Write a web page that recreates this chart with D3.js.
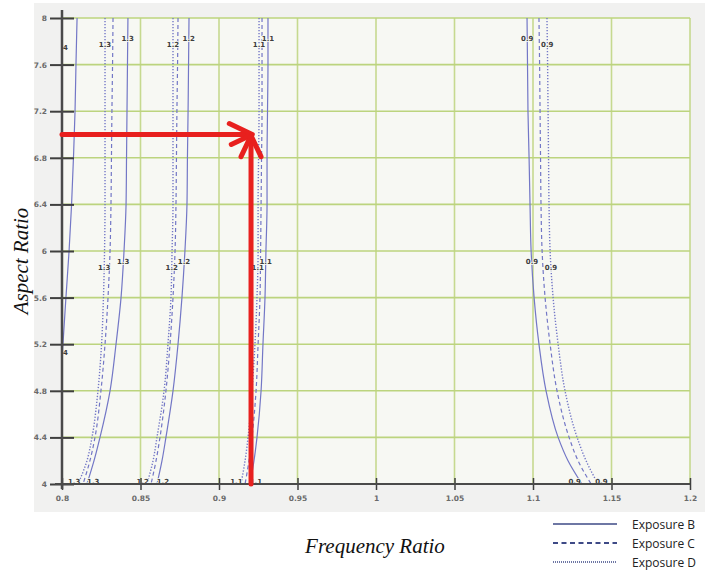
<!DOCTYPE html>
<html lang="en">
<head>
  <meta charset="UTF-8">
  <script src="https://cdn.jsdelivr.net/npm/d3@7"></script>
  <title>Aspect Ratio vs Frequency Ratio</title>
  <style>
    body { margin: 0; background: #fff; }
    svg { display: block; }
  </style>
</head>
<body>
<div id="chart"></div>
<script>
  // Axis ticks
  var xTicks = [0.8, 0.85, 0.9, 0.95, 1, 1.05, 1.1, 1.15, 1.2];
  var yTicks = [4, 4.4, 4.8, 5.2, 5.6, 6, 6.4, 6.8, 7.2, 7.6, 8];

  // Aspect ratio samples shared by all curves
  var aspect = [8, 7.6, 7.2, 6.8, 6.4, 6, 5.6, 5.2, 4.8, 4.4, 4.2, 4];

  // Frequency ratio of each curve (group label, exposure)
  var r13B = [0.8420, 0.8417, 0.8414, 0.8411, 0.8408, 0.8395, 0.8376, 0.8344, 0.8306, 0.8242, 0.8204, 0.8159];
  var r13C = [0.8325, 0.8322, 0.8318, 0.8315, 0.8312, 0.8306, 0.8293, 0.8274, 0.8248, 0.8210, 0.8178, 0.8134];
  var r13D = [0.8274, 0.8274, 0.8274, 0.8274, 0.8274, 0.8271, 0.8264, 0.8252, 0.8229, 0.8191, 0.8159, 0.8102];
  var r12B = [0.8809, 0.8806, 0.8803, 0.8799, 0.8796, 0.8783, 0.8764, 0.8739, 0.8707, 0.8662, 0.8637, 0.8605];
  var r12C = [0.8739, 0.8736, 0.8732, 0.8729, 0.8726, 0.8720, 0.8707, 0.8688, 0.8662, 0.8624, 0.8599, 0.8567];
  var r12D = [0.8707, 0.8707, 0.8707, 0.8707, 0.8707, 0.8701, 0.8694, 0.8675, 0.8650, 0.8605, 0.8580, 0.8541];
  var r11B = [0.9312, 0.9312, 0.9309, 0.9306, 0.9306, 0.9299, 0.9293, 0.9280, 0.9268, 0.9242, 0.9223, 0.9198];
  var r11C = [0.9274, 0.9274, 0.9274, 0.9271, 0.9268, 0.9265, 0.9261, 0.9249, 0.9236, 0.9210, 0.9191, 0.9166];
  var r11D = [0.9255, 0.9255, 0.9255, 0.9252, 0.9249, 0.9249, 0.9242, 0.9229, 0.9210, 0.9185, 0.9166, 0.9140];
  var r09B = [1.0962, 1.0965, 1.0968, 1.0975, 1.0981, 1.0988, 1.1007, 1.1038, 1.1083, 1.1160, 1.1223, 1.1312];
  var r09C = [1.1038, 1.1042, 1.1045, 1.1048, 1.1051, 1.1058, 1.1077, 1.1109, 1.1153, 1.1230, 1.1287, 1.1370];
  var r09D = [1.1089, 1.1093, 1.1096, 1.1099, 1.1102, 1.1109, 1.1128, 1.1160, 1.1204, 1.1281, 1.1338, 1.1414];
  // leftmost curve only reaches down to about 4.8 before leaving the plot
  var r14B = [0.8096, 0.8089, 0.8083, 0.8073, 0.8061, 0.8045, 0.8025, 0.8006, 0.7987];

  var curves = [
    {label: "1.4", exp: "B", vals: r14B},
    {label: "1.3", exp: "B", vals: r13B}, {label: "1.3", exp: "C", vals: r13C}, {label: "1.3", exp: "D", vals: r13D},
    {label: "1.2", exp: "B", vals: r12B}, {label: "1.2", exp: "C", vals: r12C}, {label: "1.2", exp: "D", vals: r12D},
    {label: "1.1", exp: "B", vals: r11B}, {label: "1.1", exp: "C", vals: r11C}, {label: "1.1", exp: "D", vals: r11D},
    {label: "0.9", exp: "B", vals: r09B}, {label: "0.9", exp: "C", vals: r09C}, {label: "0.9", exp: "D", vals: r09D}
  ];

  // annotation arrows (frequency ratio, aspect ratio)
  var arrowH = [[0.8, 7.0], [0.9212, 7.0]];
  var arrowV = [[0.9204, 4.0], [0.9204, 6.99]];

  var legendLabels = ["Exposure B", "Exposure C", "Exposure D"];

  var W = 715, H = 576;
  var margin = {top: 18, right: 25, bottom: 92, left: 62};

  var svg = d3.select("#chart").append("svg")
    .attr("width", W).attr("height", H);

  var x = d3.scaleLinear().domain([0.8, 1.2]).range([margin.left, W - margin.right]);
  var y = d3.scaleLinear().domain([4, 8]).range([H - margin.bottom, margin.top]);

  var dash = {B: null, C: "4,3", D: "1.3,1.7"};

  // panel + plot background
  svg.append("rect").attr("x", 34).attr("y", 3).attr("width", 671).attr("height", 509)
    .attr("fill", "#f1f1f0");
  svg.append("rect").attr("x", x(0.8)).attr("y", y(8))
    .attr("width", x(1.2) - x(0.8)).attr("height", y(4) - y(8))
    .attr("fill", "#f7f8f3");

  // grid
  svg.append("g").selectAll("line").data(xTicks.slice(1)).enter().append("line")
    .attr("x1", function(d) { return x(d); }).attr("x2", function(d) { return x(d); })
    .attr("y1", y(8)).attr("y2", y(4))
    .attr("stroke", "#c6d98f").attr("stroke-width", 1.6);
  svg.append("g").selectAll("line").data(yTicks.slice(1)).enter().append("line")
    .attr("x1", x(0.8)).attr("x2", x(1.2))
    .attr("y1", function(d) { return y(d); }).attr("y2", function(d) { return y(d); })
    .attr("stroke", "#bcd47e").attr("stroke-width", 1.6);

  // curves
  svg.append("clipPath").attr("id", "plotclip").append("rect")
    .attr("x", x(0.8)).attr("y", y(8) - 2)
    .attr("width", x(1.2) - x(0.8)).attr("height", y(4) - y(8) + 2);

  var line = d3.line()
    .x(function(d) { return x(d[0]); })
    .y(function(d) { return y(d[1]); })
    .curve(d3.curveMonotoneY);

  svg.append("g").attr("clip-path", "url(#plotclip)")
    .selectAll("path").data(curves).enter().append("path")
    .attr("d", function(c) { return line(c.vals.map(function(v, i) { return [v, aspect[i]]; })); })
    .attr("fill", "none")
    .attr("stroke", "#7377c6")
    .attr("stroke-width", function(c) { return c.exp == "D" ? 1.4 : 1.2; })
    .attr("stroke-dasharray", function(c) { return dash[c.exp]; });

  // curve labels, placed on the curve at a few aspect ratios
  function atAspect(c, a) {
    for (var i = 0; i < c.vals.length - 1; i++) {
      if (a <= aspect[i] && a >= aspect[i + 1]) {
        var t = (aspect[i] - a) / (aspect[i] - aspect[i + 1]);
        return c.vals[i] + t * (c.vals[i + 1] - c.vals[i]);
      }
    }
    return null;
  }
  var labelRows = [7.8, 5.88, 4.03];
  var labels = [];
  curves.forEach(function(c) {
    if (c.exp == "C" || c.label == "1.4") return;
    var partner = curves.filter(function(o) { return o.label == c.label && o.exp != c.exp && o.exp != "C"; })[0];
    labelRows.forEach(function(a, k) {
      var v = atAspect(c, a);
      var anchor = "middle";
      if (k == 2) anchor = v < atAspect(partner, a) ? "end" : "start";
      labels.push({t: c.label, fx: v, a: a + (k == 2 ? 0 : (c.exp == "B" ? 0.03 : -0.02)), anchor: anchor});
    });
  });
  // the 1.4 curve only shows the tail of its label at the plot edge
  labels.push({t: "4", fx: 0.8022, a: 7.75, anchor: "middle"});
  labels.push({t: "4", fx: 0.8022, a: 5.13, anchor: "middle"});

  svg.append("g").selectAll("text").data(labels).enter().append("text")
    .attr("x", function(d) { return x(d.fx) + (d.anchor == "start" ? -1 : (d.anchor == "end" ? 1 : 0)); })
    .attr("y", function(d) { return y(d.a) + 3; })
    .attr("text-anchor", function(d) { return d.anchor; })
    .attr("font-family", "DejaVu Sans, sans-serif")
    .attr("font-size", 7).attr("font-weight", "bold")
    .attr("fill", "#3d3d3d")
    .attr("stroke", "#f7f8f3").attr("stroke-width", 1.5).attr("paint-order", "stroke")
    .text(function(d) { return d.t; });

  // axes
  var yAxis = svg.append("g")
    .attr("transform", "translate(" + x(0.8) + ",0)")
    .call(d3.axisLeft(y).tickValues(yTicks).tickSizeInner(12).tickSizeOuter(0).tickPadding(3)
      .tickFormat(function(d) { return d3.format("~g")(d); }));
  yAxis.select(".domain").remove();
  yAxis.selectAll(".tick line").attr("x1", 12).attr("stroke", "#3f3f3f").attr("stroke-width", 2);
  yAxis.selectAll(".tick text").attr("font-family", "DejaVu Sans, sans-serif")
    .attr("font-size", 7.5).attr("font-weight", "bold").attr("fill", "#6a6a6a");

  var xAxis = svg.append("g")
    .attr("transform", "translate(0," + y(4) + ")")
    .call(d3.axisBottom(x).tickValues(xTicks).tickSizeInner(6).tickSizeOuter(0).tickPadding(6)
      .tickFormat(function(d) { return d3.format("~g")(d); }));
  xAxis.select(".domain").remove();
  xAxis.selectAll(".tick line").attr("y1", -6).attr("stroke", "#3f3f3f").attr("stroke-width", 1.5);
  xAxis.selectAll(".tick text").attr("font-family", "DejaVu Sans, sans-serif")
    .attr("font-size", 7.5).attr("font-weight", "bold").attr("fill", "#6a6a6a");

  svg.append("line").attr("x1", x(0.8)).attr("x2", x(0.8))
    .attr("y1", y(8) - 8).attr("y2", y(4) + 5)
    .attr("stroke", "#4a4a4a").attr("stroke-width", 2.5);
  svg.append("line").attr("x1", x(0.8) - 7).attr("x2", x(1.2))
    .attr("y1", y(4)).attr("y2", y(4))
    .attr("stroke", "#4a4a4a").attr("stroke-width", 2);

  // red arrows
  var red = "#e8201e";
  var arrows = svg.append("g").attr("stroke", red).attr("stroke-width", 5)
    .attr("stroke-linecap", "round").attr("stroke-linejoin", "round").attr("fill", "none");
  arrows.append("line")
    .attr("x1", x(arrowH[0][0])).attr("y1", y(arrowH[0][1]))
    .attr("x2", x(arrowH[1][0]) - 2).attr("y2", y(arrowH[1][1]));
  arrows.append("line")
    .attr("x1", x(arrowV[0][0])).attr("y1", y(arrowV[0][1]))
    .attr("x2", x(arrowV[1][0])).attr("y2", y(arrowV[1][1]) + 2);
  var hx = x(arrowH[1][0]), hy = y(arrowH[1][1]);
  arrows.append("path").attr("d", "M" + (hx - 23) + "," + (hy - 11) + "L" + hx + "," + hy + "L" + (hx - 21) + "," + (hy + 10));
  var vx = x(arrowV[1][0]), vy = y(arrowV[1][1]);
  arrows.append("path").attr("d", "M" + (vx - 10) + "," + (vy + 21) + "L" + vx + "," + vy + "L" + (vx + 10) + "," + (vy + 21));

  // axis titles
  svg.append("text")
    .attr("transform", "translate(28," + (y(6) + 10) + ") rotate(-90)")
    .attr("text-anchor", "middle")
    .attr("font-family", "Liberation Serif, serif").attr("font-style", "italic")
    .attr("font-size", 21).attr("fill", "#111")
    .text("Aspect Ratio");
  svg.append("text")
    .attr("x", 375).attr("y", 553)
    .attr("text-anchor", "middle")
    .attr("font-family", "Liberation Serif, serif").attr("font-style", "italic")
    .attr("font-size", 21).attr("fill", "#111")
    .text("Frequency Ratio");

  // legend
  var legend = svg.append("g").selectAll("g").data(legendLabels).enter().append("g")
    .attr("transform", function(d, i) { return "translate(553," + (524 + i * 19) + ")"; });
  legend.append("line")
    .attr("x1", 0).attr("x2", 64)
    .attr("stroke", "#3e4a86")
    .attr("stroke-width", function(d, i) { return i == 1 ? 2.2 : 1.6; })
    .attr("stroke-dasharray", function(d, i) { return i == 0 ? null : (i == 1 ? "5,3.5" : "1,1"); });
  legend.append("text")
    .attr("x", 79).attr("y", 4.5)
    .attr("font-family", "Open Sans, sans-serif").attr("font-size", 12)
    .attr("fill", "#222")
    .text(function(d) { return d; });
</script>
</body>
</html>
